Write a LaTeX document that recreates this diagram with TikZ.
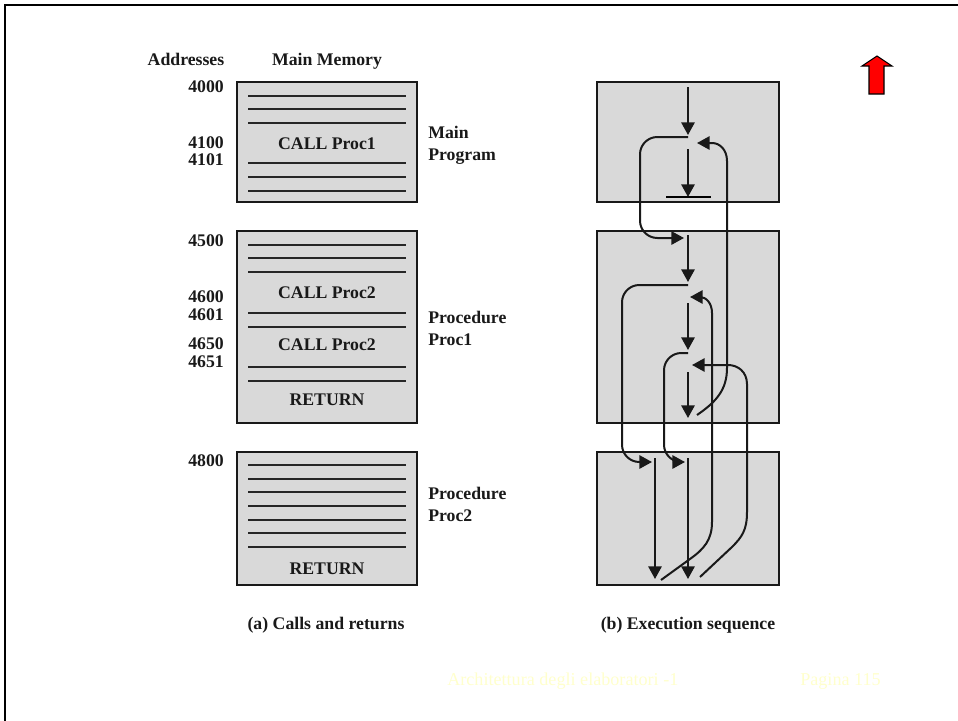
\documentclass[tikz,border=0pt]{standalone}
\usepackage{fontspec}
\setmainfont{Liberation Serif}
\usetikzlibrary{arrows.meta,positioning}
\definecolor{memgray}{RGB}{217,217,217}
\definecolor{footyellow}{RGB}{255,255,204}
\definecolor{uparrowred}{RGB}{255,0,0}
\tikzset{
  membox/.style={draw=black!90, line width=1.6pt, fill=memgray, outer sep=0pt,
    minimum width=135pt, inner sep=0pt},
  seqbox/.style={membox, minimum width=136.5pt},
  memline/.style={line width=1.4pt, draw=black!85},
  label/.style={font=\fontsize{13.3}{15}\selectfont\bfseries, text=black!90, inner sep=0pt},
  addr/.style={label, anchor=east},
  side/.style={label, anchor=west, align=left},
  foot/.style={font=\fontsize{13.6}{16}\selectfont, text=footyellow, inner sep=0pt, anchor=west},
  flow/.style={-{Triangle[length=9.5pt,width=10pt]}, line width=1.5pt, draw=black!90},
  jump/.style={flow, rounded corners=13pt}
}

\begin{document}
\begin{tikzpicture}[x=0.75pt, y=-0.75pt]
  \useasboundingbox (0,0) rectangle (958,721);
  \draw[line width=2.2pt] (5,721) -- (5,5) -- (958,5);
  % left column
  \node[membox, minimum height=90pt, anchor=north west] (mainmem) at (237,82) {};
  \node[membox, minimum height=144pt, below=21.75pt of mainmem] (proc1mem) {};
  \node[membox, minimum height=99.75pt, below=21.75pt of proc1mem] (proc2mem) {};
  % right column
  \node[seqbox, minimum height=90pt, anchor=north west] (mainseq) at (597,82) {};
  \node[seqbox, minimum height=144pt, below=21.75pt of mainseq] (proc1seq) {};
  \node[seqbox, minimum height=99.75pt, below=21.75pt of proc1seq] (proc2seq) {};
  \draw[memline] (248,96) -- (406,96) (248,109) -- (406,109) (248,123) -- (406,123)
    (248,163) -- (406,163) (248,177) -- (406,177) (248,191) -- (406,191);
  \draw[memline] (248,245) -- (406,245) (248,258) -- (406,258) (248,272) -- (406,272)
    (248,313) -- (406,313) (248,327) -- (406,327)
    (248,367) -- (406,367) (248,381) -- (406,381);
  \draw[memline] (248,465) -- (406,465) (248,479) -- (406,479) (248,492) -- (406,492)
    (248,506) -- (406,506) (248,520) -- (406,520) (248,533) -- (406,533) (248,547) -- (406,547);
  \node[label, anchor=base] (addrhead) at (186,65) {Addresses};
  \node[label, anchor=base] (memhead) at (327,65) {Main Memory};
  \node[addr] (a4000) at (224,87) {4000};
  \node[addr] (a4100) at (224,143) {4100};
  \node[addr] (a4101) at (224,160) {4101};
  \node[addr] (a4500) at (224,241) {4500};
  \node[addr] (a4600) at (224,297) {4600};
  \node[addr] (a4601) at (224,315) {4601};
  \node[addr] (a4650) at (224,344) {4650};
  \node[addr] (a4651) at (224,362) {4651};
  \node[addr] (a4800) at (224,461) {4800};
  \node[label] (call1) at (327,144) {CALL Proc1};
  \node[label] (call2) at (327,293) {CALL Proc2};
  \node[label] (call3) at (327,345) {CALL Proc2};
  \node[label] (ret1) at (327,400) {RETURN};
  \node[label] (ret2) at (327,569) {RETURN};
  \node[side] (mainlabel) at (428,145.5) {Main\\[1.5pt]Program};
  \node[side] (proc1label) at (428,328.5) {Procedure\\[1.5pt]Proc1};
  \node[side] (proc2label) at (428,504.5) {Procedure\\[1.5pt]Proc2};
  \node[label, anchor=base] (capa) at (326,629) {(a) Calls and returns};
  \node[label, anchor=base] (capb) at (688,629) {(b) Execution sequence};
  % execution sequence
  \coordinate (s1) at (688,87);
  \coordinate (s1e) at (688,135);
  \coordinate (s2) at (688,149);
  \coordinate (s2e) at (688,197);
  \coordinate (c1) at (688,137);
  \coordinate (c1e) at (684,238);
  \coordinate (r1) at (697,415);
  \coordinate (r1e) at (697,143);
  \coordinate (s3) at (688,235);
  \coordinate (s3e) at (688,282);
  \coordinate (c2) at (688,285);
  \coordinate (c2e) at (652,462);
  \coordinate (s4) at (688,303);
  \coordinate (s4e) at (688,350);
  \coordinate (r2) at (661,580);
  \coordinate (r2e) at (690,297);
  \coordinate (c3) at (688,353);
  \coordinate (c3e) at (685,462);
  \coordinate (s5) at (688,372);
  \coordinate (s5e) at (688,418);
  \coordinate (r3) at (700,577);
  \coordinate (r3e) at (692,365);
  \coordinate (s6) at (655,458);
  \coordinate (s6e) at (655,579);
  \coordinate (s7) at (688,458);
  \coordinate (s7e) at (688,579);
  \draw[flow] (s1) -- (s1e);
  \draw[flow] (s2) -- (s2e);
  \draw[line width=1pt] (666,197) -- (711,197);
  \draw[flow] (s3) -- (s3e);
  \draw[flow] (s4) -- (s4e);
  \draw[flow] (s5) -- (s5e);
  \draw[flow] (s6) -- (s6e);
  \draw[flow] (s7) -- (s7e);
  \draw[jump] (c1) -- (640,137) -- (640,238) -- (c1e);
  \draw[jump] (c2) -- (622,285) -- (622,462) -- (c2e);
  \draw[jump] (c3) -- (664,353) -- (664,462) -- (c3e);
  \draw[flow] (r1) .. controls (716,402) and (727,390) .. (727,368) -- (727,161)
    .. controls (727,150) and (720,143) .. (712,143) -- (r1e);
  \draw[flow] (r2) -- (690,559) .. controls (704,549) and (712,540) .. (712,522) -- (712,313)
    .. controls (712,303) and (706,297) .. (700,297) -- (r2e);
  \draw[flow] (r3) -- (732,547) .. controls (742,537) and (747,530) .. (747,512) -- (747,384)
    .. controls (747,372) and (738,365) .. (728,365) -- (r3e);
  % up arrow and footer
  \draw[draw=black, line width=0.8pt, fill=uparrowred] (877,56) -- (892,66) -- (884,66)
    -- (884,94) -- (869,94) -- (869,66) -- (862,66) -- cycle;
  \node[foot] (footl) at (447,681) {Architettura degli elaboratori -1};
  \node[foot] (footr) at (800,681) {Pagina 115};
\end{tikzpicture}
\end{document}
